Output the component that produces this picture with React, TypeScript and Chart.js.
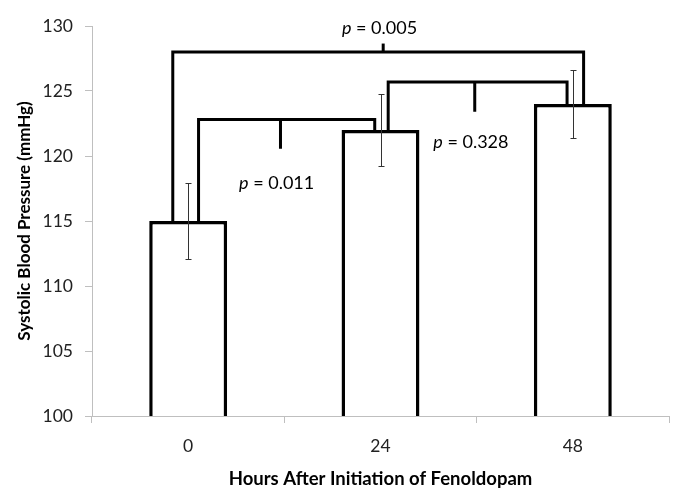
import React, { useEffect, useRef } from "react";
import { Chart, registerables } from "chart.js";

Chart.register(...registerables);

const categories = ["0", "24", "48"];
const meanSBP = [115, 122, 124];
const errSBP = [2.9, 2.8, 2.6];

const yMin = 100;
const yMax = 130;
const yStep = 5;

// brackets (x in category units, y in mmHg)
const bracketLeftX = [-0.08, 0.054, 1.04];
const bracketRightX = [2.056, 0.97, 1.97];
const bracketTopY = [128, 122.8, 125.7];
const bracketLeftBaseY = [115, 115, 122];
const bracketRightBaseY = [124, 122, 124];
const bracketTickX = [1.014, 0.48, 1.49];
const bracketTickEndY = [128.65, 120.55, 123.4];

const pValues = ["0.005", "0.011", "0.328"];
const pLabelX = [0.995, 0.46, 1.47];
const pLabelY = [129.8, 117.9, 121.1];

const FONT = "Lato, 'Open Sans', sans-serif";

const errorBarPlugin = {
  id: "errorBars",
  afterDatasetsDraw(chart: any) {
    const ctx = chart.ctx;
    const xs = chart.scales.x;
    const ys = chart.scales.y;
    ctx.save();
    ctx.strokeStyle = "#333";
    ctx.lineWidth = 1;
    meanSBP.forEach((m, i) => {
      const x = Math.round(xs.getPixelForValue(i)) + 0.5;
      const yh = Math.round(ys.getPixelForValue(m + errSBP[i])) + 0.5;
      const yl = Math.round(ys.getPixelForValue(m - errSBP[i])) + 0.5;
      ctx.beginPath();
      ctx.moveTo(x, yh);
      ctx.lineTo(x, yl);
      ctx.moveTo(x - 3, yh);
      ctx.lineTo(x + 3, yh);
      ctx.moveTo(x - 3, yl);
      ctx.lineTo(x + 3, yl);
      ctx.stroke();
    });
    ctx.restore();
  },
};

const pLabelPlugin = {
  id: "pLabels",
  afterDatasetsDraw(chart: any) {
    const ctx = chart.ctx;
    const xs = chart.scales.xl;
    const ys = chart.scales.y;
    ctx.save();
    ctx.fillStyle = "#000";
    ctx.textBaseline = "middle";
    ctx.textAlign = "left";
    pValues.forEach((v, i) => {
      const cx = xs.getPixelForValue(pLabelX[i]);
      const cy = ys.getPixelForValue(pLabelY[i]);
      const italic = `italic 18px ${FONT}`;
      const normal = `18px ${FONT}`;
      ctx.font = italic;
      const w1 = ctx.measureText("p").width;
      ctx.font = normal;
      const rest = " = " + v;
      const w2 = ctx.measureText(rest).width;
      const x0 = cx - (w1 + w2) / 2;
      ctx.font = italic;
      ctx.fillText("p", x0, cy);
      ctx.font = normal;
      ctx.fillText(rest, x0 + w1, cy);
    });
    ctx.restore();
  },
};

export default function App() {
  const ref = useRef<HTMLCanvasElement | null>(null);
  useEffect(() => {
    if (!ref.current) return;
    const lineDs: any[] = [];
    bracketLeftX.forEach((lx, i) => {
      lineDs.push({
        type: "line",
        xAxisID: "xl",
        yAxisID: "y",
        data: [
          { x: lx, y: bracketLeftBaseY[i] },
          { x: lx, y: bracketTopY[i] },
          { x: bracketRightX[i], y: bracketTopY[i] },
          { x: bracketRightX[i], y: bracketRightBaseY[i] },
        ],
        borderColor: "#000",
        borderWidth: 3,
        pointRadius: 0,
        tension: 0,
        fill: false,
        borderJoinStyle: "miter",
        borderCapStyle: "butt",
        order: 0,
      });
      lineDs.push({
        type: "line",
        xAxisID: "xl",
        yAxisID: "y",
        data: [
          { x: bracketTickX[i], y: bracketTopY[i] },
          { x: bracketTickX[i], y: bracketTickEndY[i] },
        ],
        borderColor: "#000",
        borderWidth: 3,
        pointRadius: 0,
        fill: false,
        borderCapStyle: "butt",
        order: 0,
      });
    });

    const chart = new Chart(ref.current, {
      type: "bar",
      data: {
        labels: categories,
        datasets: [
          {
            type: "bar",
            data: meanSBP,
            xAxisID: "x",
            yAxisID: "y",
            backgroundColor: "#fff",
            borderColor: "#000",
            borderWidth: 3.5,
            borderSkipped: false,
            grouped: false,
            barPercentage: 0.405,
            categoryPercentage: 1,
            order: 1,
          } as any,
          ...lineDs,
        ],
      },
      options: {
        responsive: false,
        animation: false,
        layout: { padding: { top: 26, right: 16, left: 0, bottom: 0 } },
        plugins: {
          legend: { display: false },
          tooltip: { enabled: false },
        },
        scales: {
          x: {
            type: "category",
            offset: true,
            grid: {
              offset: true,
              drawOnChartArea: false,
              drawTicks: true,
              tickLength: 7,
              color: "#bfbfbf",
            },
            border: { color: "#bfbfbf", width: 1 },
            ticks: {
              color: "#222",
              font: { family: FONT, size: 17.5 },
              padding: 13,
            },
            title: {
              display: true,
              text: "Hours After Initiation of Fenoldopam",
              color: "#000",
              font: { family: FONT, size: 18.5, weight: "bold" },
              padding: { top: 0, bottom: 13 },
            },
            afterFit(scale: any) {
              scale.height = 87;
            },
          },
          xl: {
            type: "linear",
            display: false,
            offset: false,
            grid: { offset: false },
            min: -0.5,
            max: 2.5,
          },
          y: {
            type: "linear",
            min: yMin,
            max: yMax,
            ticks: {
              stepSize: yStep,
              color: "#222",
              font: { family: FONT, size: 17.5 },
              padding: 12,
            },
            grid: {
              drawOnChartArea: false,
              drawTicks: true,
              tickLength: 7,
              color: "#bfbfbf",
            },
            border: { color: "#bfbfbf", width: 1 },
            title: {
              display: true,
              text: "Systolic Blood Pressure (mmHg)",
              color: "#000",
              font: { family: FONT, size: 17, weight: "bold" },
              padding: { top: 14, bottom: 0 },
            },
            afterFit(scale: any) {
              scale.width = 92;
            },
          },
        },
      } as any,
      plugins: [errorBarPlugin, pLabelPlugin],
    });
    return () => chart.destroy();
  }, []);

  return (
    <div style={{ position: "fixed", left: 0, top: 0, width: 685, height: 503, background: "#fff" }}>
      <canvas ref={ref} width={685} height={503} style={{ display: "block" }} />
    </div>
  );
}
